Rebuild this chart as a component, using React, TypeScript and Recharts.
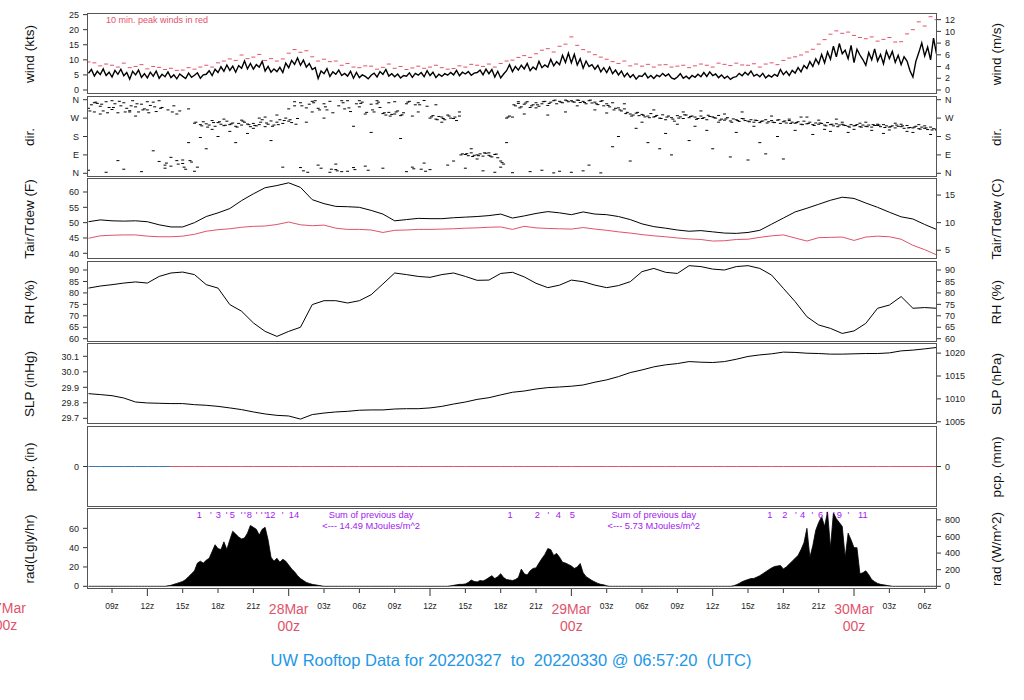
import React from 'react';
import { ComposedChart, Line, Area, Scatter, XAxis, YAxis } from 'recharts';

const RED = '#DF536B';
const BLUE = '#2297E6';
const PCP_BLUE = '#3a78b5';
const PURPLE = '#A020F0';
const FONT = '"Liberation Sans", Arial, Helvetica, sans-serif';

// time axis in hours relative to 28 Mar 00z
const X_MIN = -17.04;
const X_MAX = 54.96;
const T0 = -17;
const xTicks = [-15, -12, -9, -6, -3, 0, 3, 6, 9, 12, 15, 18, 21, 24, 27, 30, 33, 36, 39, 42, 45, 48, 51, 54];
const dayLabels: Record<string, string> = { '-24': '27Mar', '0': '28Mar', '24': '29Mar', '48': '30Mar' };

// wind speed (kts), 15 min steps from 27Mar 07z
const windKts = [
  5.5, 6.8, 4.6, 6.2,
  5.1, 7.0, 4.8, 5.9,
  4.3, 6.5, 5.2, 6.9,
  4.7, 5.8, 3.6, 6.2,
  5.0, 6.6, 4.2, 5.4,
  4.0, 5.9, 4.6, 6.3,
  3.9, 5.2, 4.4, 6.0,
  4.1, 5.0, 3.7, 5.3,
  4.5, 3.8, 5.6, 4.2,
  4.9, 5.7, 3.9, 5.0,
  5.2, 6.4, 4.8, 6.9,
  5.8, 7.7, 6.2, 8.3,
  6.5, 7.9, 5.9, 8.1,
  7.2, 9.6, 7.0, 8.8,
  6.9, 8.4, 7.6, 9.5,
  6.3, 7.8, 5.9, 7.0,
  6.1, 7.5, 5.8, 8.9,
  7.4, 9.8, 8.5, 10.6,
  8.2, 9.9, 7.6, 8.8,
  6.8, 7.4, 3.8, 6.3,
  5.4, 7.1, 4.5, 6.0,
  5.2, 6.6, 4.8, 5.5,
  4.6, 6.2, 3.9, 5.8,
  4.1, 5.0, 4.5, 3.7,
  4.9, 5.6, 4.3, 6.1,
  5.2, 6.8, 4.6, 5.4,
  4.4, 5.3, 4.0, 4.8,
  4.6, 5.7, 4.2, 5.5,
  4.9, 5.8, 4.4, 6.4,
  4.8, 5.9, 4.1, 5.2,
  4.5, 5.4, 4.9, 5.8,
  5.0, 6.5, 4.7, 5.9,
  5.3, 6.1, 4.9, 5.6,
  5.8, 6.6, 5.0, 6.9,
  5.4, 6.8, 4.3, 6.2,
  4.0, 5.3, 6.4, 8.4,
  6.1, 7.8, 6.6, 8.2,
  7.0, 8.8, 6.4, 7.6,
  6.8, 9.5, 7.4, 8.3,
  7.6, 10.2, 8.0, 9.4,
  8.4, 11.5, 9.1, 12.2,
  9.0, 11.8, 8.3, 10.4,
  7.2, 9.6, 7.8, 8.4,
  6.9, 8.2, 6.0, 7.4,
  5.8, 7.6, 5.4, 6.6,
  5.0, 6.3, 4.4, 5.6,
  4.2, 5.1, 3.6, 4.7,
  4.5, 5.6, 4.0, 4.8,
  3.8, 4.9, 4.4, 5.5,
  4.6, 5.3, 4.0, 3.6,
  4.3, 5.4, 3.9, 4.6,
  3.7, 4.8, 4.2, 5.2,
  4.4, 5.8, 4.5, 6.0,
  4.8, 5.3, 4.1, 5.0,
  3.9, 4.6, 3.5, 4.2,
  4.4, 5.5, 4.7, 5.9,
  5.0, 6.3, 4.6, 5.2,
  4.4, 5.5, 4.0, 4.9,
  4.3, 5.2, 4.6, 6.8,
  5.1, 6.2, 4.8, 6.5,
  5.6, 7.4, 6.0, 8.1,
  7.1, 9.4, 7.8, 10.3,
  8.6, 11.8, 9.0, 12.6,
  10.2, 14.5, 11.0, 15.4,
  12.0, 13.2, 10.4, 14.8,
  9.1, 13.5, 11.6, 10.1,
  8.2, 12.4, 10.0, 13.6,
  9.6, 11.8, 8.7, 12.9,
  10.4, 12.8, 9.2, 11.5,
  8.4, 11.0, 9.6, 6.4,
  4.3, 9.5, 12.4, 15.6,
  11.3, 14.2, 10.0, 17.2,
  12.0,
];

// 10 min peak winds (kts), 30 min steps
const peakKts = [
  9.3, 9.0, 8.0, 8.6, 8.2, 7.6, 8.9, 7.4, 7.8, 8.4, 7.0, 7.8, 7.5, 6.8, 7.2, 6.5,
  6.6, 7.4, 6.9, 7.6, 8.2, 7.6, 9.0, 9.6, 10.3, 9.8, 11.6, 10.4, 10.9, 11.8, 9.8, 10.4,
  9.6, 10.3, 12.2, 13.4, 12.5, 13.0, 11.0, 9.6, 10.2, 9.4, 9.6, 8.2, 8.8, 7.6, 7.4, 8.0,
  7.9, 6.9, 7.5, 8.6, 7.2, 7.8, 6.8, 7.3, 7.9, 7.2, 7.6, 8.2, 7.4, 6.9, 7.1, 8.0,
  7.6, 8.5, 8.2, 7.8, 8.6, 7.6, 8.8, 9.6, 9.9, 10.8, 11.4, 10.8, 12.0, 13.2, 13.7, 12.6,
  14.5, 15.2, 17.6, 14.8, 13.4, 12.6, 11.7, 10.9, 10.2, 9.4, 8.8, 9.6, 8.0, 8.6, 7.9, 8.5,
  7.6, 8.3, 8.4, 7.6, 7.9, 8.2, 7.4, 8.0, 8.6, 8.2, 7.6, 8.9, 8.5, 8.1, 8.9, 8.3,
  8.2, 8.7, 7.6, 8.6, 9.0, 8.4, 9.8, 10.6, 11.0, 11.6, 12.6, 13.5, 15.2, 16.7, 18.5, 19.6,
  18.8, 19.2, 18.1, 17.4, 17.0, 17.6, 16.2, 16.8, 17.4, 15.9, 16.0, 18.6, 20.0, 22.6, 21.2, 24.3,
  23.3,
];

// wind direction (deg), 15 min steps
const dirMain = [
  318, 335, 300, 342, 328, 305, 350, 322, 312, 340, 296, 330, 345, 318, 306, 355,
  325, 300, 338, 315, 310, 332, 348, 302, 58, 322, 40, 310, 35, 330, 62, 305,
  48, 20, 315, 55, 245, 30, 238, 252, 242, 236, 258, 230, 248, 240, 233, 255,
  238, 246, 230, 244, 236, 250, 241, 228, 244, 232, 238, 262, 228, 240, 256, 236,
  250, 262, 244, 270, 255, 248, 330, 268, 345, 12, 320, 338, 300, 355, 318, 25,
  340, 310, 352, 296, 18, 330, 8, 315, 355, 302, 28, 340, 325, 348, 290, 15,
  338, 300, 355, 322, 292, 285, 298, 288, 290, 305, 282, 296, 340, 352, 30, 335,
  345, 20, 356, 328, 270, 282, 265, 278, 275, 262, 285, 270, 268, 258, 280, 95,
  92, 86, 100, 88, 90, 95, 84, 98, 88, 80, 92, 76, 60, 45, 270, 280,
  275, 330, 342, 325, 338, 350, 322, 335, 345, 328, 340, 352, 332, 348, 355, 340,
  352, 345, 358, 350, 355, 348, 358, 346, 352, 340, 355, 344, 348, 336, 352, 330,
  340, 325, 345, 318, 320, 305, 315, 298, 290, 285, 294, 282, 288, 276, 280, 292,
  275, 283, 270, 286, 262, 280, 272, 255, 282, 276, 268, 285, 272, 280, 275, 268,
  280, 272, 262, 278, 276, 270, 283, 265, 260, 272, 256, 266, 262, 254, 268, 258,
  255, 262, 250, 258, 248, 256, 262, 252, 258, 248, 260, 244, 252, 246, 258, 250,
  245, 252, 240, 255, 242, 250, 238, 246, 240, 244, 236, 248, 238, 232, 242, 236,
  240, 234, 230, 238, 232, 238, 228, 236, 230, 236, 226, 234, 234, 228, 238, 232,
  226, 232, 222, 230, 228, 220, 234, 224, 222, 230, 218, 226, 220, 214, 226, 218,
  216,
];

// second set of direction readings near the main band, 30 min steps
const dirAlt = [
  305, 348, 338, 296, 322, 352, 300, 330, 340, 310, 296, 325, 318, 50, 300, 45,
  30, 62, 250, 232, 226, 248, 252, 235, 242, 226, 255, 238, 234, 250, 246, 230,
  238, 258, 262, 240, 330, 5, 345, 310, 325, 20, 12, 345, 320, 18, 342, 298,
  310, 348, 296, 280, 300, 286, 348, 22, 335, 10, 276, 262, 268, 280, 275, 90,
  96, 82, 86, 100, 84, 94, 52, 275, 335, 320, 344, 330, 335, 350, 342, 358,
  348, 355, 350, 357, 346, 358, 340, 355, 332, 310, 310, 292, 280, 298, 284, 272,
  278, 268, 275, 265, 270, 286, 278, 264, 268, 284, 272, 260, 266, 250, 258, 266,
  252, 260, 254, 246, 250, 262, 256, 244, 248, 238, 244, 234, 246, 232, 240, 228,
  236, 226, 234, 226, 228, 238, 236, 224, 228, 236, 232, 222, 226, 216, 222, 212,
  220,
];

// scattered direction readings, 30 min steps
const dirScatter = [
  15, 345, 290, 5, 355, 62, 20, 300, 280, 8, 350, 110, 355, 25, 78, 290,
  65, 150, 10, 175, 120, 215, 180, 265, 205, 150, 260, 195, 220, 270, 275, 160,
  285, 30, 315, 350, 28, 250, 352, 40, 270, 5, 45, 355, 10, 230, 355, 35,
  200, 340, 25, 345, 350, 170, 8, 280, 300, 50, 18, 335, 250, 40, 60, 300,
  25, 120, 70, 12, 100, 5, 30, 150, 3, 350, 290, 8, 320, 15, 285, 2,
  10, 300, 5, 330, 12, 40, 310, 2, 295, 130, 180, 340, 60, 220, 250, 150,
  310, 120, 195, 90, 240, 300, 160, 230, 305, 210, 120, 250, 290, 80, 200, 300,
  65, 230, 150, 95, 280, 180, 70, 265, 210, 275, 275, 190, 260, 215, 205, 265,
  250, 200, 215, 245, 250, 210, 240, 195, 212, 245, 240, 205, 200, 238, 232, 190,
  212,
];

// hourly series from 27Mar 07z
const tairF = [
  50.3, 50.9, 50.6, 50.5, 50.6, 50.3, 49.3, 48.6, 48.6, 50.0, 52.0, 53.2, 54.6, 57.2, 59.4, 61.4, 62.1,
  63.0, 61.5, 57.5, 56.2, 55.3, 55.2, 55.0, 54.0, 52.8, 50.6, 51.0, 51.4, 51.3, 51.3, 51.6, 51.8,
  52.0, 52.3, 52.8, 51.5, 52.2, 53.0, 53.6, 53.2, 52.6, 53.5, 52.8, 52.6, 52.0, 51.0, 49.6, 48.7,
  48.2, 47.6, 47.2, 47.4, 47.0, 46.6, 46.5, 46.8, 47.5, 49.5, 51.5, 53.5, 54.7, 56.0, 57.3, 58.3,
  57.9, 56.4, 55.0, 53.4, 51.9, 51.2, 49.4, 47.8,
];
const tdewF = [
  44.9, 45.7, 45.9, 46.0, 46.0, 45.6, 45.4, 45.4, 45.6, 46.2, 47.2, 47.7, 48.0, 48.5, 48.8, 48.9, 49.4,
  50.2, 49.3, 49.0, 49.2, 48.2, 47.8, 47.8, 47.6, 46.8, 47.5, 47.6, 47.8, 47.8, 47.9, 48.0, 48.2,
  48.3, 48.5, 48.6, 47.8, 48.8, 48.3, 48.1, 48.0, 47.9, 48.4, 47.9, 47.5, 47.0, 46.6, 46.1, 45.7,
  45.4, 45.0, 44.7, 44.5, 44.0, 44.1, 44.5, 44.6, 45.2, 45.7, 46.0, 45.0, 44.0, 45.1, 45.2, 45.3,
  44.2, 45.3, 45.6, 45.4, 44.6, 42.6, 41.2, 39.5,
];
const rhPct = [
  82.1, 83.0, 83.6, 84.3, 84.8, 84.3, 87.2, 88.7, 89.1, 88.0, 83.6, 82.1, 74.9, 72.0, 66.9, 63.2, 61.0,
  63.2, 65.0, 74.9, 76.6, 76.6, 75.6, 76.6, 79.2, 83.9, 88.7, 88.0, 87.2, 86.8, 88.0, 88.7, 87.2,
  85.5, 85.6, 88.5, 89.0, 87.0, 84.2, 82.3, 83.4, 85.6, 84.9, 83.4, 82.3, 83.2, 84.9, 89.3, 90.7,
  89.0, 88.5, 91.9, 91.5, 90.4, 90.0, 91.5, 91.9, 90.7, 87.8, 82.0, 76.2, 69.6, 66.0, 64.5, 62.3,
  63.4, 66.7, 73.3, 74.7, 78.4, 73.3, 73.6, 73.3,
];
const slpInHg = [
  29.859, 29.853, 29.846, 29.831, 29.805, 29.799, 29.797, 29.795, 29.795, 29.788, 29.784, 29.777, 29.767, 29.756, 29.741, 29.728, 29.719,
  29.715, 29.695, 29.724, 29.734, 29.741, 29.745, 29.752, 29.754, 29.754, 29.760, 29.762, 29.762, 29.767, 29.777, 29.792, 29.805,
  29.822, 29.833, 29.851, 29.868, 29.876, 29.889, 29.898, 29.902, 29.907, 29.915, 29.933, 29.948, 29.969, 29.995, 30.012, 30.032,
  30.045, 30.053, 30.066, 30.062, 30.060, 30.066, 30.081, 30.099, 30.109, 30.116, 30.127, 30.125, 30.120, 30.118, 30.114, 30.114,
  30.116, 30.118, 30.118, 30.122, 30.135, 30.140, 30.148, 30.157,
];
const pcpIn = [
  0, 0, 0, 0, 0, 0, 0, 0, 0, 0, 0, 0, 0, 0, 0, 0, 0,
  0, 0, 0, 0, 0, 0, 0, 0, 0, 0, 0, 0, 0, 0, 0, 0,
  0, 0, 0, 0, 0, 0, 0, 0, 0, 0, 0, 0, 0, 0, 0, 0,
  0, 0, 0, 0, 0, 0, 0, 0, 0, 0, 0, 0, 0, 0, 0, 0,
  0, 0, 0, 0, 0, 0, 0, 0,
];
const PCP_BLUE_UNTIL = -10;

// solar radiation (Langley/hr), 15 min steps
const radLy = [
  0, 0, 0, 0, 0, 0, 0, 0, 0, 0, 0, 0, 0, 0, 0, 0, 0, 0, 0, 0, 0, 0, 0, 0, 0, 0, 0,
  0.5, 1, 2, 3, 4, 5, 7, 10, 13, 16, 24, 26, 24, 27, 29, 36, 43, 39, 38, 46,
  38, 48, 57, 54, 51, 49, 50, 55, 63, 61, 59, 53, 59, 61, 48, 30, 26, 29, 25, 28,
  26, 22, 18, 15, 11, 8, 6, 4, 3, 2, 1.5, 1, 0.5, 0,
  0, 0, 0, 0, 0, 0, 0, 0, 0, 0, 0, 0, 0, 0, 0, 0, 0, 0, 0, 0, 0,
  0, 0, 0, 0, 0, 0, 0, 0, 0, 0, 0, 0, 0, 0, 0, 0, 0, 0, 0, 0, 0,
  0.5, 1, 1.5, 2, 2, 2.5, 4, 6.5, 5, 4.5, 6, 5.5, 7, 9, 11, 8, 10, 13, 9, 7,
  6.5, 6, 7, 9, 17.8, 13, 11.6, 16, 18.5, 19, 24, 28.7, 33, 39, 38, 32, 34, 30, 25, 24,
  22.6, 21, 18.5, 20, 23.6, 14, 10, 8, 6, 4.5, 3, 2, 1.5, 0.5, 0,
  0, 0, 0, 0, 0, 0, 0, 0, 0, 0, 0, 0, 0, 0, 0, 0, 0, 0, 0, 0, 0,
  0, 0, 0, 0, 0, 0, 0, 0, 0, 0, 0, 0, 0, 0, 0, 0, 0, 0, 0, 0,
  0.5, 1.5, 3, 4.8, 6, 7, 8, 8.2, 9.5, 11, 13, 15, 17, 19, 20.5, 21, 21.5, 18, 20, 23,
  26, 29, 32, 38, 45, 60, 30, 42, 58, 66, 72, 62, 77, 40, 76, 70, 66, 62, 30, 55,
  48, 40, 40, 13, 14, 16, 12, 7, 4.8, 3, 2, 1.5, 1, 0.5, 0,
  0, 0, 0, 0, 0, 0, 0, 0, 0, 0, 0, 0, 0, 0, 0,
];

// purple marks at the top of the radiation panel
const radMarkT = [-7.59, -6.6, -5.98, -5.26, -4.79, -3.99, -3.71, -3.35, -2.72, -2.29, -2.01, -1.56, -0.51, 0.45,
  18.79, 21.11, 22.04, 22.89, 24.08,
  40.86, 42.13, 43.06, 43.64, 44.46, 45.17, 45.68, 46.3, 46.75, 47.52, 48.74];
const radMarkLab = ['1', "'", '3', "'", '5', "'", "'", '8', "'", "'", "'", '12', "'", '14',
  '1', '2', "'", '4', '5',
  '1', '2', "'", '4', "'", '6', "'", "'", '9', "'", '11'];
const radSumT = [7, 31];
const radSumLab = ['<--- 14.49 MJoules/m^2', '<--- 5.73 MJoules/m^2'];

const KTS_PER_MS = 1.9438;
const HPA_PER_INHG = 33.8639;
const WM2_PER_LY = 11.63;

const q15 = (arr: number[]) => arr.map((v, i) => ({ t: T0 + i * 0.25, v }));
const q30 = (arr: number[]) => arr.map((v, i) => ({ t: T0 + i * 0.5, v }));

const windData = q15(windKts);
const peakData = q30(peakKts);
const dirMainData = q15(dirMain);
const dirAltData = q30(dirAlt).map((d) => ({ ...d, t: d.t + 0.12 }));
const dirScatterData = q30(dirScatter);
const radData = q15(radLy);
const hourData = tairF.map((v, i) => ({
  t: T0 + i,
  tair: v,
  tdew: tdewF[i],
  rh: rhPct[i],
  slp: slpInHg[i],
  pcpBlue: T0 + i <= PCP_BLUE_UNTIL ? pcpIn[i] : null,
  pcpRed: T0 + i >= PCP_BLUE_UNTIL ? pcpIn[i] : null,
}));
const radMarkData = radMarkT.map((t, i) => ({ t, v: 73.8, label: radMarkLab[i] }));
const radSum1 = radSumT.map((t) => ({ t, v: 73.8, label: 'Sum of previous day' }));
const radSum2 = radSumT.map((t, i) => ({ t, v: 62.6, label: radSumLab[i] }));

const PLOT_L = 88;
const PLOT_W = 848;
const PANEL_H = 79;
const PAD = 8;
const AXIS_H = 48;
const xPix = (h: number) => PLOT_L + ((h - X_MIN) / (X_MAX - X_MIN)) * PLOT_W;

const dash = (color: string, w: number) => (p: any) => (
  <line x1={p.cx - w / 2} x2={p.cx + w / 2} y1={p.cy} y2={p.cy} stroke={color} strokeWidth={1} />
);
const textShape = (size: number) => (p: any) => (
  <text x={p.cx} y={p.cy} textAnchor="middle" dominantBaseline="central" fontSize={size} fill={PURPLE} fontFamily={FONT}>
    {p.payload.label}
  </text>
);

function TimeTick(props: any) {
  const { x, y, payload } = props;
  const h = payload.value as number;
  const hod = ((h % 24) + 24) % 24;
  const len = hod % 12 === 0 ? 8 : 5;
  return (
    <g>
      <line x1={x} x2={x} y1={y} y2={y + len} stroke="#333" strokeWidth={1} />
      {hod === 0 ? (
        <text x={x} y={y} textAnchor="middle" fill={RED} fontSize={14} fontFamily={FONT}>
          <tspan x={x} dy={26}>{dayLabels[String(h)]}</tspan>
          <tspan x={x} dy={17}>00z</tspan>
        </text>
      ) : (
        <text x={x} y={y + 20.5} textAnchor="middle" fill="#222" fontSize={8.5} fontFamily={FONT}>
          {String(hod).padStart(2, '0') + 'z'}
        </text>
      )}
    </g>
  );
}

type PanelProps = {
  top: number;
  data?: any[];
  yL: [number, number];
  yR: [number, number];
  ticksL: number[];
  ticksR: number[];
  fmtL?: (v: number) => string;
  fmtR?: (v: number) => string;
  titleL: string;
  titleR: string;
  showX?: boolean;
  children: React.ReactNode;
};

const titleStyle = (cx: number, cy: number): React.CSSProperties => ({
  position: 'absolute',
  left: cx,
  top: cy,
  transform: 'translate(-50%, -50%) rotate(-90deg)',
  whiteSpace: 'nowrap',
  fontSize: 13.5,
  fontFamily: FONT,
  color: '#111',
  lineHeight: 1,
});

function Panel({ top, data, yL, yR, ticksL, ticksR, fmtL, fmtR, titleL, titleR, showX, children }: PanelProps) {
  const h = PANEL_H + PAD + (showX ? AXIS_H : PAD);
  const tickStyle = { fontSize: 9, fill: '#222', fontFamily: FONT };
  return (
    <>
      <div style={{ position: 'absolute', left: 0, top: top - PAD }}>
        <ComposedChart width={1024} height={h} data={data} margin={{ top: PAD, right: 0, bottom: showX ? 0 : PAD, left: 0 }}>
          <XAxis
            dataKey="t"
            type="number"
            domain={[X_MIN, X_MAX]}
            allowDataOverflow
            ticks={xTicks}
            interval={0}
            hide={!showX}
            height={AXIS_H}
            axisLine={false}
            tickLine={false}
            tickSize={0}
            tickMargin={0}
            tick={<TimeTick />}
          />
          <YAxis
            yAxisId="L"
            orientation="left"
            width={PLOT_L}
            type="number"
            domain={yL}
            allowDataOverflow
            ticks={ticksL}
            interval={0}
            tickFormatter={fmtL}
            axisLine={false}
            tickSize={5}
            tickMargin={4}
            tickLine={{ stroke: '#333' }}
            tick={tickStyle}
          />
          <YAxis
            yAxisId="R"
            orientation="right"
            width={1024 - PLOT_L - PLOT_W}
            type="number"
            domain={yR}
            allowDataOverflow
            ticks={ticksR}
            interval={0}
            tickFormatter={fmtR}
            axisLine={false}
            tickSize={5}
            tickMargin={4}
            tickLine={{ stroke: '#333' }}
            tick={tickStyle}
          />
          {children}
        </ComposedChart>
        <div
          style={{
            position: 'absolute',
            left: PLOT_L - 1,
            top: PAD - 1,
            width: PLOT_W + 2,
            height: PANEL_H + 2,
            border: '1.5px solid #555',
            boxSizing: 'border-box',
            pointerEvents: 'none',
          }}
        />
      </div>
      <div style={titleStyle(30, top + PANEL_H / 2)}>{titleL}</div>
      <div style={titleStyle(997, top + PANEL_H / 2)}>{titleR}</div>
    </>
  );
}

const dirFmt = (v: number) => ({ 0: 'N', 90: 'E', 180: 'S', 270: 'W', 360: 'N' } as Record<number, string>)[v] ?? '';
const fToC = (f: number) => (f - 32) / 1.8;

export default function App() {
  const tempL: [number, number] = [38.47, 64.24];
  const slpL: [number, number] = [29.6697, 30.1794];
  const radL: [number, number] = [-1.76, 80];
  const windL: [number, number] = [-1, 25.2];
  return (
    <div style={{ position: 'absolute', left: 0, top: 0, width: 1024, height: 700, background: '#fff', overflow: 'hidden', fontFamily: FONT }}>
      <Panel top={14} data={windData} yL={windL} yR={[windL[0] / KTS_PER_MS, windL[1] / KTS_PER_MS]}
        ticksL={[0, 5, 10, 15, 20, 25]} ticksR={[0, 2, 4, 6, 8, 10, 12]} titleL="wind (kts)" titleR="wind (m/s)">
        <Line yAxisId="L" dataKey="v" stroke="#000" strokeWidth={1.4} dot={false} isAnimationActive={false} />
        <Scatter yAxisId="L" data={peakData} dataKey="v" shape={dash(RED, 4)} isAnimationActive={false} />
      </Panel>
      <Panel top={97} yL={[-13.2, 373.2]} yR={[-13.2, 373.2]} ticksL={[0, 90, 180, 270, 360]} ticksR={[0, 90, 180, 270, 360]}
        fmtL={dirFmt} fmtR={dirFmt} titleL="dir." titleR="dir.">
        <Scatter yAxisId="L" data={dirMainData} dataKey="v" shape={dash('#000', 3)} isAnimationActive={false} />
        <Scatter yAxisId="L" data={dirAltData} dataKey="v" shape={dash('#000', 3)} isAnimationActive={false} />
        <Scatter yAxisId="L" data={dirScatterData} dataKey="v" shape={dash('#000', 3)} isAnimationActive={false} />
      </Panel>
      <Panel top={179} data={hourData} yL={tempL} yR={[fToC(tempL[0]), fToC(tempL[1])]}
        ticksL={[40, 45, 50, 55, 60]} ticksR={[5, 10, 15]} titleL="Tair/Tdew (F)" titleR="Tair/Tdew (C)">
        <Line yAxisId="L" dataKey="tair" stroke="#000" strokeWidth={1} dot={false} isAnimationActive={false} />
        <Line yAxisId="L" dataKey="tdew" stroke={RED} strokeWidth={1} dot={false} isAnimationActive={false} />
      </Panel>
      <Panel top={262} data={hourData} yL={[59.0, 93.5]} yR={[59.0, 93.5]}
        ticksL={[60, 65, 70, 75, 80, 85, 90]} ticksR={[60, 65, 70, 75, 80, 85, 90]} titleL="RH (%)" titleR="RH (%)">
        <Line yAxisId="L" dataKey="rh" stroke="#000" strokeWidth={1} dot={false} isAnimationActive={false} />
      </Panel>
      <Panel top={344} data={hourData} yL={slpL} yR={[slpL[0] * HPA_PER_INHG, slpL[1] * HPA_PER_INHG]}
        ticksL={[29.7, 29.8, 29.9, 30.0, 30.1]} ticksR={[1005, 1010, 1015, 1020]} fmtL={(v) => v.toFixed(1)}
        titleL="SLP (inHg)" titleR="SLP (hPa)">
        <Line yAxisId="L" dataKey="slp" stroke="#000" strokeWidth={1} dot={false} isAnimationActive={false} />
      </Panel>
      <Panel top={427} data={hourData} yL={[-1, 1]} yR={[-1, 1]} ticksL={[0]} ticksR={[0]} titleL="pcp. (in)" titleR="pcp. (mm)">
        <Line yAxisId="L" dataKey="pcpBlue" stroke={PCP_BLUE} strokeWidth={1} dot={false} isAnimationActive={false} />
        <Line yAxisId="L" dataKey="pcpRed" stroke={RED} strokeWidth={1} dot={false} isAnimationActive={false} />
      </Panel>
      <Panel top={509} data={radData} yL={radL} yR={[radL[0] * WM2_PER_LY, radL[1] * WM2_PER_LY]}
        ticksL={[0, 20, 40, 60]} ticksR={[0, 200, 400, 600, 800]} titleL="rad(Lgly/hr)" titleR="rad (W/m^2)" showX>
        <Area yAxisId="L" dataKey="v" type="linear" stroke="#000" strokeWidth={0.8} fill="#000" fillOpacity={1} baseValue={0} dot={false} isAnimationActive={false} />
        <Scatter yAxisId="L" data={radMarkData} dataKey="v" shape={textShape(9.3)} isAnimationActive={false} />
        <Scatter yAxisId="L" data={radSum1} dataKey="v" shape={textShape(9.3)} isAnimationActive={false} />
        <Scatter yAxisId="L" data={radSum2} dataKey="v" shape={textShape(9.3)} isAnimationActive={false} />
      </Panel>

      <div style={{ position: 'absolute', left: 106, top: 14.5, fontSize: 9, color: RED, whiteSpace: 'nowrap', lineHeight: '11px' }}>
        10 min. peak winds in red
      </div>
      <div style={{ position: 'absolute', left: xPix(-24), top: 600, transform: 'translateX(-50%)', textAlign: 'center', color: RED, fontSize: 14, lineHeight: '17px' }}>
        {dayLabels['-24']}
        <br />
        00z
      </div>
      <div style={{ position: 'absolute', left: 511, top: 660, transform: 'translate(-50%, -50%)', color: BLUE, fontSize: 16.5, whiteSpace: 'pre', lineHeight: 1 }}>
        {'UW Rooftop Data for 20220327  to  20220330 @ 06:57:20  (UTC)'}
      </div>
    </div>
  );
}
